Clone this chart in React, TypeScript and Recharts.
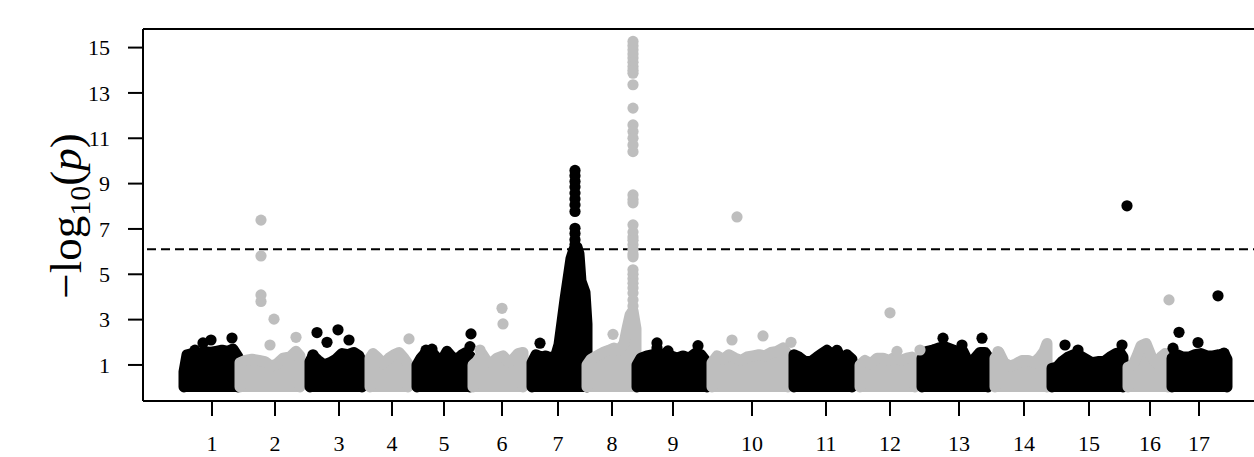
import { Area, ComposedChart, ReferenceLine, Scatter, XAxis, YAxis } from 'recharts'

type Pt = [number, number]

const chromLabels = ['1', '2', '3', '4', '5', '6', '7', '8', '9', '10', '11', '12', '13', '14', '15', '16', '17']
// cumulative position of each chromosome's tick
const chromTicks = [69, 132, 196, 249, 301, 359, 415, 469, 530, 609, 683, 747, 816, 881, 946, 1007, 1056]
const yTicks = [1, 3, 5, 7, 9, 11, 13, 15]
const threshold = 6.1

// upper envelope of the dense SNP cloud per chromosome: [position, -log10(p)]
const band1: Pt[] = [[41, 0.03], [41, 0.7], [44, 1.45], [49, 1.5], [55, 1.35], [61, 1.6], [67, 1.55], [73, 1.6], [79, 1.65], [85, 1.6], [90, 1.7], [95, 1.35], [95, 0.03]]
const band2: Pt[] = [[97, 0.03], [97, 1.1], [102, 1.2], [109, 1.25], [116, 1.2], [122, 1.15], [128, 0.95], [134, 1.05], [140, 1.3], [147, 1.35], [153, 1.6], [157, 1.4], [157, 0.03]]
const band3: Pt[] = [[167, 0.03], [167, 1.15], [170, 1.4], [175, 1.2], [181, 1.0], [187, 1.1], [193, 1.25], [199, 1.5], [205, 1.45], [211, 1.55], [216, 1.4], [219, 1.1], [219, 0.03]]
const band4: Pt[] = [[227, 0.03], [227, 1.3], [230, 1.5], [235, 1.3], [240, 1.05], [246, 1.3], [251, 1.45], [256, 1.55], [261, 1.3], [265, 1.05], [265, 0.03]]
const band5: Pt[] = [[274, 0.03], [274, 1.0], [278, 1.3], [283, 1.55], [289, 1.55], [294, 1.3], [299, 1.2], [304, 1.6], [309, 1.35], [314, 1.25], [319, 1.45], [323, 1.55], [327, 1.4], [327, 0.03]]
const band6: Pt[] = [[330, 0.03], [330, 1.0], [334, 1.15], [339, 1.5], [344, 1.15], [349, 1.1], [354, 1.3], [360, 1.4], [365, 1.15], [370, 1.25], [375, 1.5], [380, 1.55], [380, 0.03]]
const band7: Pt[] = [[389, 0.03], [389, 1.1], [393, 1.45], [398, 1.35], [403, 1.4], [408, 1.3], [413, 1.45], [416, 1.9], [419, 2.9], [422, 3.9], [425, 4.8], [428, 5.7], [431, 6.1], [434, 6.2], [436, 5.9], [438, 4.7], [442, 4.2], [444, 2.8], [444, 0.03]]
const band8: Pt[] = [[444, 0.03], [444, 1.0], [448, 1.25], [454, 1.4], [460, 1.55], [466, 1.65], [471, 1.75], [476, 1.65], [481, 1.95], [484, 2.6], [487, 3.2], [490, 3.4], [493, 2.6], [493, 0.03]]
const band9: Pt[] = [[494, 0.03], [494, 1.0], [498, 1.3], [504, 1.4], [510, 1.45], [516, 1.35], [522, 1.5], [528, 1.4], [534, 1.3], [540, 1.4], [546, 1.3], [552, 1.5], [558, 1.45], [564, 1.1], [564, 0.03]]
const band10: Pt[] = [[569, 0.03], [569, 1.1], [574, 1.4], [580, 1.25], [586, 1.45], [592, 1.3], [598, 1.2], [604, 1.35], [610, 1.4], [616, 1.45], [622, 1.4], [628, 1.55], [634, 1.6], [640, 1.75], [645, 1.45], [645, 0.03]]
const band11: Pt[] = [[651, 0.03], [651, 1.45], [656, 1.35], [662, 1.15], [668, 1.15], [674, 1.35], [679, 1.5], [684, 1.65], [689, 1.45], [694, 1.65], [699, 1.15], [704, 1.45], [709, 1.25], [709, 0.03]]
const band12: Pt[] = [[717, 0.03], [717, 1.0], [722, 1.2], [728, 1.05], [734, 1.3], [740, 1.3], [746, 1.2], [752, 1.35], [758, 1.2], [764, 1.3], [769, 1.35], [772, 1.15], [772, 0.03]]
const band13: Pt[] = [[779, 0.03], [779, 1.3], [784, 1.6], [790, 1.65], [796, 1.75], [802, 1.8], [808, 1.7], [814, 1.6], [820, 1.6], [825, 1.15], [831, 1.25], [837, 1.55], [842, 1.55], [845, 1.35], [845, 0.03]]
const band14: Pt[] = [[852, 0.03], [852, 1.3], [856, 1.55], [861, 1.1], [867, 0.95], [873, 1.05], [879, 1.2], [885, 1.2], [891, 1.1], [897, 1.35], [901, 1.6], [904, 1.95], [904, 0.03]]
const band15: Pt[] = [[909, 0.03], [909, 0.85], [914, 0.9], [919, 1.15], [925, 1.35], [931, 1.45], [937, 1.4], [943, 1.25], [949, 1.1], [955, 1.15], [961, 1.15], [967, 1.35], [973, 1.5], [977, 1.55], [980, 1.35], [980, 0.03]]
const band16: Pt[] = [[985, 0.03], [985, 0.9], [990, 1.0], [994, 1.4], [998, 1.85], [1003, 1.95], [1008, 1.4], [1013, 1.1], [1018, 1.35], [1022, 1.5], [1025, 1.4], [1025, 0.03]]
const band17: Pt[] = [[1029, 0.03], [1029, 1.3], [1034, 1.45], [1040, 1.35], [1046, 1.35], [1052, 1.45], [1058, 1.5], [1064, 1.4], [1070, 1.4], [1076, 1.45], [1081, 1.5], [1084, 1.25], [1084, 0.03]]

const bands = [band1, band2, band3, band4, band5, band6, band7, band8, band9, band10, band11, band12, band13, band14, band15, band16, band17]

// individual SNPs standing out of the cloud (odd chromosomes, black)
const blackHits: Pt[] = [
  [60, 1.97], [68, 2.1], [89, 2.19], [52, 1.65],
  [174, 2.43], [184, 2.0], [195, 2.55], [206, 2.1], [170, 1.45],
  [328, 2.37], [327, 1.81], [283, 1.65], [289, 1.7],
  [397, 1.96], [432, 9.58], [432, 9.35], [432, 9.09], [432, 8.85], [432, 8.58], [432, 8.32], [432, 8.06], [432, 7.77],
  [432, 7.03], [432, 6.8], [432, 6.52], [432, 6.3],
  [514, 1.97], [514, 1.75], [525, 1.62], [555, 1.85],
  [684, 1.62],
  [790, 1.66], [800, 2.18], [819, 1.88], [839, 2.18],
  [922, 1.88], [935, 1.66], [979, 1.88], [984, 8.02],
  [1030, 1.74], [1036, 2.44], [1055, 1.99], [1081, 1.52], [1075, 4.05],
]

// even chromosomes, grey
const grayHits: Pt[] = [
  [118, 7.39], [118, 5.81], [118, 4.09], [118, 3.8], [131, 3.02], [127, 1.88], [153, 2.22],
  [266, 2.15],
  [337, 1.66], [359, 3.5], [360, 2.81],
  [470, 2.35],
  [490, 15.27], [490, 15.08], [490, 14.9], [490, 14.72], [490, 14.54], [490, 14.35], [490, 14.17], [490, 14.0], [490, 13.87],
  [490, 13.36], [490, 12.33], [490, 11.59], [490, 11.3], [490, 11.0], [490, 10.7], [490, 10.41],
  [490, 8.5], [490, 8.3], [490, 8.15], [490, 7.18], [490, 6.86], [490, 6.65], [490, 6.5], [490, 6.3], [490, 6.1],
  [490, 5.9], [490, 5.77], [490, 5.2], [490, 5.0], [490, 4.8], [490, 4.6], [490, 4.4], [490, 4.17], [490, 3.87], [490, 3.6],
  [589, 2.1], [620, 2.28], [648, 2.0], [594, 7.53],
  [754, 1.6], [747, 3.3], [777, 1.66],
  [855, 1.59],
  [1026, 3.87],
]

const BLACK = '#000000'
const GRAY = '#bebebe'
const FONT = '"Liberation Serif", "Times New Roman", serif'
const Y_MIN = -0.59
const Y_MAX = 15.82

const rows = (pts: Pt[]) => pts.map(([x, y]) => ({ x, y }))

const dot = (fill: string) => (p: any) => <circle cx={p.cx} cy={p.cy} r={5.6} fill={fill} />

function YLabel() {
  return (
    <text
      x={81}
      y={216}
      transform="rotate(-90 81 216)"
      textAnchor="middle"
      fontFamily={FONT}
      fontSize={45}
      fill="#000"
    >
      <tspan>−log</tspan>
      <tspan fontSize={30} dy={9}>10</tspan>
      <tspan dy={-9}>(</tspan>
      <tspan fontStyle="italic">p</tspan>
      <tspan>)</tspan>
    </text>
  )
}

export default function App() {
  const axisStroke = { stroke: '#000', strokeWidth: 2 }
  const tickFont = { fontSize: 22, fill: '#000', fontFamily: FONT }

  return (
    <div style={{ position: 'absolute', left: 0, top: 0, width: 1254, height: 457, overflow: 'hidden', background: '#fff' }}>
      <ComposedChart width={1270} height={457} margin={{ top: 29, right: 0, bottom: 0, left: 0 }}>
        <XAxis
          type="number"
          dataKey="x"
          domain={[0, 1127]}
          allowDataOverflow
          ticks={chromTicks}
          interval={0}
          tickFormatter={(v: number) => chromLabels[chromTicks.indexOf(v)]}
          height={56}
          tickSize={15}
          tickMargin={19}
          axisLine={axisStroke}
          tickLine={axisStroke}
          tick={tickFont}
        />
        <YAxis
          type="number"
          dataKey="y"
          domain={[Y_MIN, Y_MAX]}
          allowDataOverflow
          ticks={yTicks}
          interval={0}
          width={143}
          tickSize={15}
          tickMargin={18}
          axisLine={axisStroke}
          tickLine={axisStroke}
          tick={tickFont}
          label={<YLabel />}
        />
        <ReferenceLine y={Y_MAX} stroke="#000" strokeWidth={2} />
        {bands.map((b, i) => (
          <Area
            key={i}
            data={rows(b)}
            dataKey="y"
            type="linear"
            baseValue={-0.19}
            fill={i % 2 ? GRAY : BLACK}
            fillOpacity={1}
            stroke={i % 2 ? GRAY : BLACK}
            strokeWidth={11}
            strokeLinejoin="round"
            strokeLinecap="round"
            dot={false}
            activeDot={false}
            isAnimationActive={false}
          />
        ))}
        <Scatter data={rows(blackHits)} fill={BLACK} shape={dot(BLACK)} isAnimationActive={false} />
        <Scatter data={rows(grayHits)} fill={GRAY} shape={dot(GRAY)} isAnimationActive={false} />
        <ReferenceLine y={threshold} stroke="#000" strokeWidth={2} strokeDasharray="9 5" strokeDashoffset={-4} />
      </ComposedChart>
    </div>
  )
}
